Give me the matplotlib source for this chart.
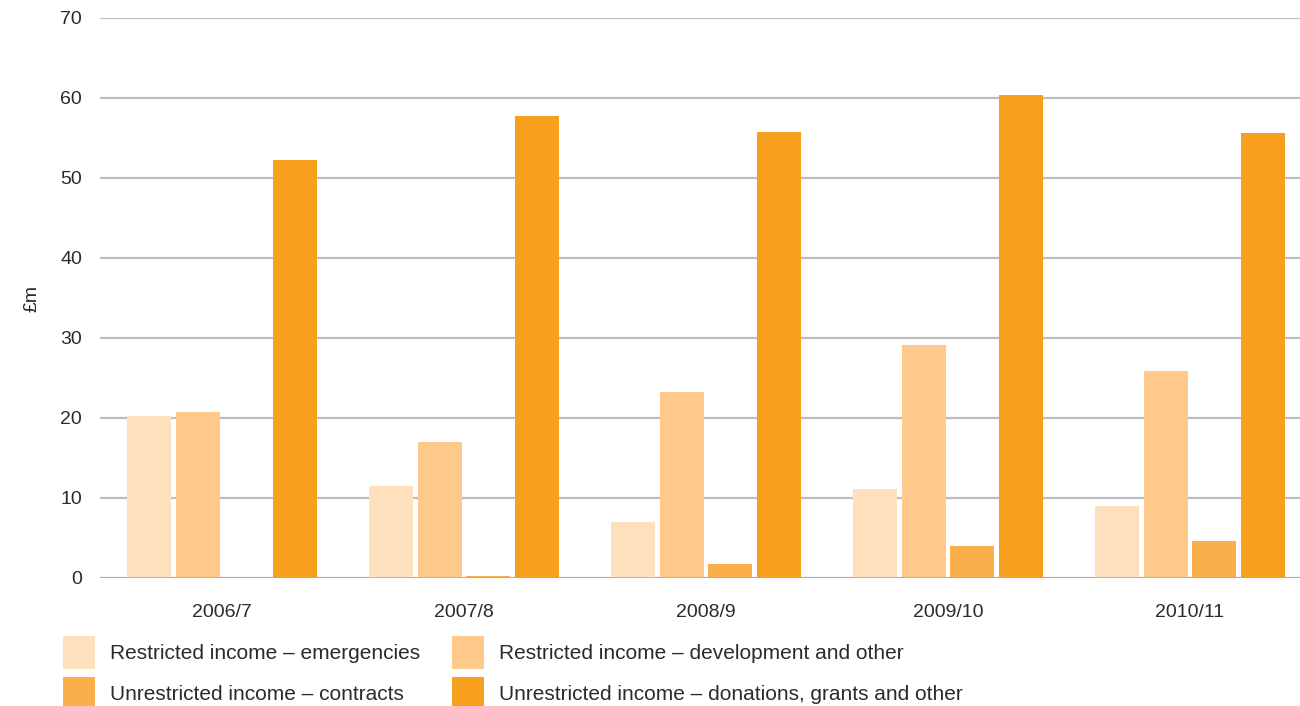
import numpy as np
import matplotlib.pyplot as plt
from matplotlib.patches import Patch

plt.rcParams['font.family'] = ['Liberation Sans', 'DejaVu Sans']

years = ["2006/7", "2007/8", "2008/9", "2009/10", "2010/11"]
series_names = ["Restricted income – emergencies",
                "Restricted income – development and other",
                "Unrestricted income – contracts",
                "Unrestricted income – donations, grants and other"]
emergencies = [20.3, 11.45, 6.95, 11.1, 8.95]
development = [20.7, 16.95, 23.3, 29.1, 25.85]
contracts = [0.1, 0.2, 1.7, 3.95, 4.6]
donations = [52.2, 57.8, 55.7, 60.4, 55.6]
colors = ["#fee0bf", "#fec98b", "#fbaf4b", "#f79f1f"]

fig = plt.figure(figsize=(13, 7.06), dpi=100)
ax = fig.add_axes([100/1300, 1 - 578/706, 1200/1300, 560/706])

x = np.arange(len(years))
w = 0.182
pitch = 0.201
for i, vals in enumerate([emergencies, development, contracts, donations]):
    ax.bar(x + (i - 1.5) * pitch, vals, width=w, color=colors[i], zorder=3)

ax.set_ylim(0, 70)
ax.set_xlim(-0.504, 4.455)
ax.set_yticks(range(0, 71, 10))
ax.yaxis.grid(True, color="#bdbdbd", linewidth=1.6, zorder=0)
for s in ax.spines.values():
    s.set_visible(False)
ax.axhline(0, color="#aaaaaa", linewidth=1.8, zorder=4)
ax.tick_params(axis='both', length=0, labelsize=14, colors="#2b2b2b")
ax.tick_params(axis='y', pad=13)
ax.tick_params(axis='x', pad=19)
ax.set_xticks(x)
ax.set_xticklabels(years)
ax.set_ylabel("£m", fontsize=14, color="#2b2b2b", labelpad=14)

# legend fills column-first, so reorder to get row-wise layout
order = [0, 2, 1, 3]
handles = [Patch(facecolor=colors[k], edgecolor='none') for k in order]
labels = [series_names[k] for k in order]
fig.legend(handles, labels, loc='upper left', bbox_to_anchor=(63/1300, 1 - 636/706),
           ncol=2, frameon=False, fontsize=15, handlelength=1.53, handleheight=2.05,
           handletextpad=0.72, columnspacing=1.54, labelspacing=0.38, borderpad=0,
           borderaxespad=0, labelcolor="#2b2b2b")

plt.savefig("out.png", dpi=100)
